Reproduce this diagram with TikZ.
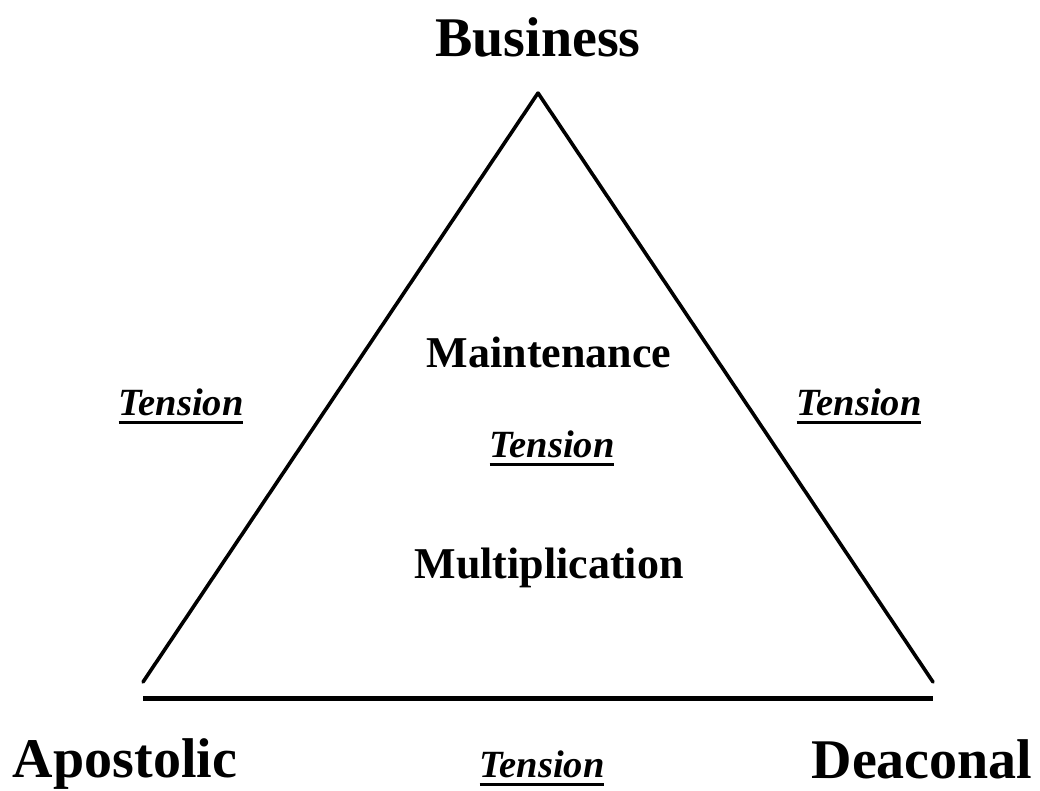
\documentclass[tikz,border=0pt]{standalone}
\usepackage{fontspec}
\setmainfont{Liberation Serif}
\usepackage{tikz}
\usetikzlibrary{positioning}
\newcommand{\bigs}{\fontsize{56bp}{60bp}\selectfont}
\newcommand{\mids}{\fontsize{44bp}{48bp}\selectfont}
\newcommand{\tens}{\fontsize{38.5bp}{42bp}\selectfont}
\newcommand{\tension}{\setbox0=\hbox{\itshape Tension}\leavevmode\rlap{\raisebox{-8.5bp}{\rule{\wd0}{3bp}}}\box0}

\begin{document}
\begin{tikzpicture}[x=1bp,y=-1bp]
        \tikzset{Corner/.style = {font=\bfseries\bigs, anchor=base, inner sep=0pt},
                 Mode/.style = {font=\bfseries\mids, anchor=base, inner sep=0pt},
                 Tense/.style = {font=\bfseries\tens, anchor=base, inner sep=0pt},
                 Side/.style = {line width=3.6bp, line cap=round},
                 Base/.style = {line width=5bp}}
        \useasboundingbox (0,0) rectangle (1040,791);
        \begin{scope}
        %\draw[help lines] (0,0) grid[step=100] (1040,791);
            \coordinate (top) at (538,93);
            \coordinate (left) at (143,682);
            \coordinate (right) at (933,682);
            \coordinate (bl) at (143,698);
            \coordinate (br) at (933,698);

            \draw[Side] (left) -- (top);
            \draw[Side] (top) -- (right);
            \draw[Base] (bl) -- (br);

            \node[Corner] (bus) at (538,57) {Business};
            \node[Corner] (apo) at (125,777) {Apostolic};
            \node[Corner] (dea) at (922,778) {Deaconal};

            \node[Mode] (main) at (549,367) {Maintenance};
            \node[Mode] (mult) at (549,578) {Multiplication};

            \node[Tense] (tmid) at (552,457) {\tension};
            \node[Tense] (tleft) at (181,415) {\tension};
            \node[Tense] (tright) at (859,415) {\tension};
            \node[Tense] (tbase) at (542,777) {\tension};
        \end{scope}
    \end{tikzpicture}
\end{document}
